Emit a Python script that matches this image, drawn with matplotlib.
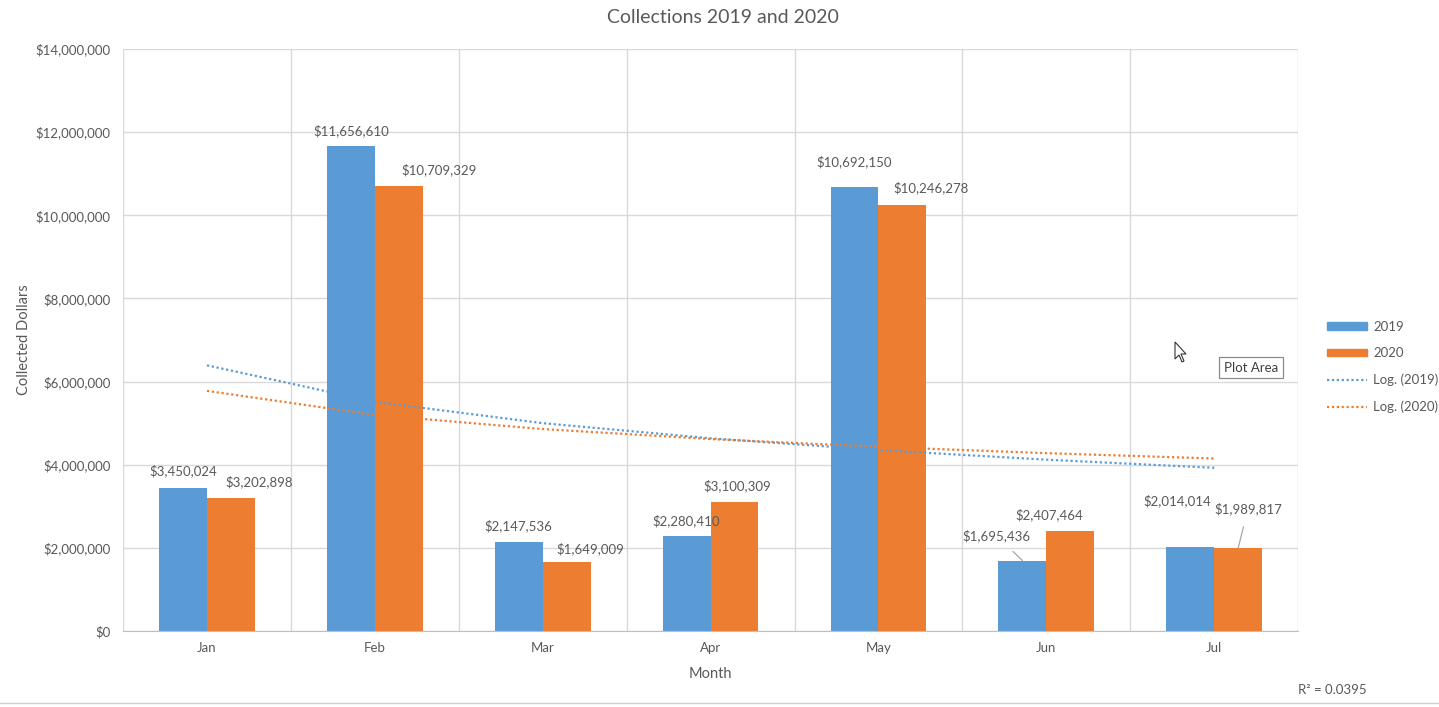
import numpy as np
import matplotlib.pyplot as plt
from matplotlib.patches import Patch, Polygon
from matplotlib.lines import Line2D
from matplotlib.ticker import FuncFormatter, MultipleLocator

months = ["Jan", "Feb", "Mar", "Apr", "May", "Jun", "Jul"]
collected_2019 = [3450024, 11656610, 2147536, 2280410, 10692150, 1695436, 2014014]
collected_2020 = [3202898, 10709329, 1649009, 3100309, 10246278, 2407464, 1989817]

BLUE = "#5B9BD5"
ORANGE = "#ED7D31"
TXT = "#595959"
GRID = "#D9D9D9"

plt.rcParams["font.family"] = ["Lato", "DejaVu Sans"]

# label offsets in pixels (hand placed, like the excel chart)
off_2019 = [(0, 17), (0, 16), (0, 16), (-1, 15), (0, 25), (-26, 25), (-13, 47)]
off_2020 = [(28, 16), (40, 16), (24, 14), (3, 16), (29, 17), (-21, 16), (10, 40)]
leader_2019 = [False, False, False, False, False, True, False]
leader_2020 = [False, False, False, False, False, False, True]


def log_trend(y):
    # excel "Log." trendline: y = a*ln(x) + b, x = 1..n
    x = np.arange(1, len(y) + 1)
    a, b = np.polyfit(np.log(x), y, 1)
    return a * np.log(x) + b


fig = plt.figure(figsize=(14.39, 7.07), dpi=100)
ax = fig.add_axes([0.0855, 0.1075, 0.8166, 0.8232])

x = np.arange(len(months))
w = 0.285
b19 = ax.bar(x - w / 2, collected_2019, w, color=BLUE, zorder=2)
b20 = ax.bar(x + w / 2, collected_2020, w, color=ORANGE, zorder=2)

ax.plot(x, log_trend(collected_2019), color=BLUE, ls=(0, (1, 1.2)), lw=1.6, zorder=3)
ax.plot(x, log_trend(collected_2020), color=ORANGE, ls=(0, (1, 1.2)), lw=1.6, zorder=3)


def money(v, pos=None):
    return "${:,.0f}".format(v)


for bars, vals, offs, leads in [(b19, collected_2019, off_2019, leader_2019),
                                (b20, collected_2020, off_2020, leader_2020)]:
    for rect, v, (dx, dy), lead in zip(bars, vals, offs, leads):
        cx = rect.get_x() + rect.get_width() / 2
        ap = dict(arrowstyle="-", color="#A6A6A6", lw=0.9, shrinkA=7, shrinkB=0) if lead else None
        ax.annotate(money(v), (cx, v), xytext=(dx, dy), textcoords="offset pixels",
                    ha="center", va="center", fontsize=9.5, color=TXT,
                    arrowprops=ap, zorder=4)

ax.set_xlim(-0.5, len(months) - 0.5)
ax.set_ylim(0, 14000000)
ax.yaxis.set_major_locator(MultipleLocator(2000000))
ax.yaxis.set_major_formatter(FuncFormatter(money))
ax.set_xticks(x)
ax.set_xticklabels(months)
ax.set_xticks(np.arange(len(months) + 1) - 0.5, minor=True)
ax.tick_params(axis="both", which="both", length=0, colors=TXT, labelsize=9.5)
ax.tick_params(axis="x", pad=8)
ax.tick_params(axis="y", pad=9)
ax.grid(axis="y", color=GRID, lw=1, zorder=0)
ax.grid(axis="x", which="minor", color=GRID, lw=1, zorder=0)
for s in ["top", "right", "left"]:
    ax.spines[s].set_visible(False)
ax.spines["bottom"].set_color("#BFBFBF")

ax.set_xlabel("Month", fontsize=10.5, color=TXT, labelpad=9)
ax.set_ylabel("Collected Dollars", fontsize=10.5, color=TXT, labelpad=3)
fig.text(0.5025, 0.975, "Collections 2019 and 2020", ha="center", va="center",
         fontsize=14, color=TXT)

handles = [Patch(color=BLUE), Patch(color=ORANGE),
           Line2D([], [], color=BLUE, ls=(0, (1, 1.2)), lw=1.6),
           Line2D([], [], color=ORANGE, ls=(0, (1, 1.2)), lw=1.6)]
labels = ["2019", "2020", "Log. (2019)", "Log. (2020)"]
leg = fig.legend(handles, labels, loc="center left", bbox_to_anchor=(0.914, 0.481),
                 frameon=False, fontsize=9.5, handlelength=3.0, handleheight=0.5,
                 labelspacing=1.1, handletextpad=0.5)
for t in leg.get_texts():
    t.set_color(TXT)

fig.text(0.926, 0.024, "R² = 0.0395", ha="center", va="center", fontsize=9.5, color=TXT)

# the "Plot Area" tooltip and mouse pointer that were on screen
fig.text(0.8695, 0.480, "Plot Area", ha="center", va="center", fontsize=9.5, color="#404040",
         bbox=dict(boxstyle="square,pad=0.35", fc="white", ec="#8C8C8C", lw=0.9))
px, py = 1175, 707 - 342
cursor = [(0, 0), (0, -17), (4, -13), (7, -20), (9, -19), (6, -12), (11, -12)]
fig.add_artist(Polygon([((px + cx) / 1439, (py + cy) / 707) for cx, cy in cursor],
                       closed=True, fc="white", ec="#333333", lw=0.8,
                       transform=fig.transFigure))

fig.add_artist(Line2D([0, 1], [0.006, 0.006], color="#D0D0D0", lw=1, transform=fig.transFigure))

fig.savefig("out.png", dpi=100)
